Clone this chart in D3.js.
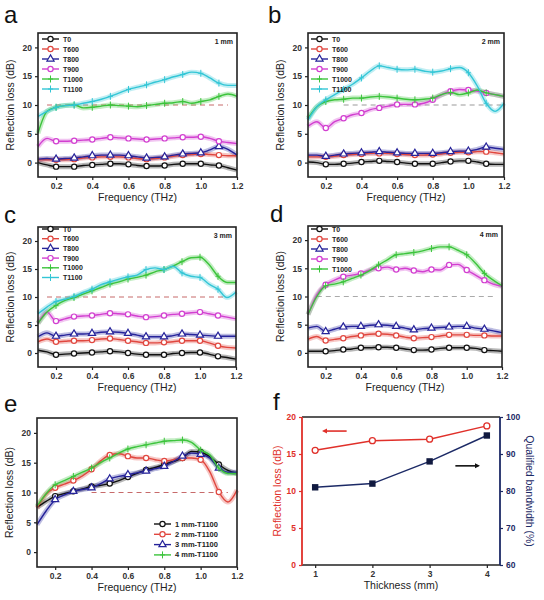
<!DOCTYPE html>
<html><head><meta charset="utf-8">
<script src="https://cdn.jsdelivr.net/npm/d3@7"></script>
<style>body{margin:0;background:#fff}svg{display:block}text{font-family:"Liberation Sans",Arial,sans-serif}</style>
</head><body><svg id="c" width="544" height="600"></svg>
<script>
const freq=[0.1,0.15,0.2,0.25,0.3,0.35,0.4,0.45,0.5,0.55,0.6,0.65,0.7,0.75,0.8,0.85,0.9,0.95,1.0,1.05,1.1,1.15,1.2];
const freqTicks=[0.2,0.4,0.6,0.8,1.0,1.2];
const rlTicks=[0,5,10,15,20];
const seriesNames=["T0","T600","T800","T900","T1000","T1100"];
const thickNames=["1 mm-T1100","2 mm-T1100","3 mm-T1100","4 mm-T1100"];

// panel a (1 mm)
const a_T0=[0.0,-0.4,-0.7,-0.7,-0.7,-0.5,-0.4,-0.3,-0.2,-0.2,-0.3,-0.5,-0.6,-0.6,-0.5,-0.3,-0.2,-0.2,-0.2,-0.4,-0.5,-0.9,-1.3];
const a_T600=[0.5,0.5,0.5,0.5,0.6,0.8,0.9,1.0,1.0,1.0,0.9,0.7,0.6,0.7,0.9,1.1,1.3,1.4,1.5,1.4,1.3,1.2,1.2];
const a_T800=[0.6,0.7,0.6,0.7,0.8,1.0,1.2,1.3,1.3,1.3,1.2,1.0,0.8,0.9,1.0,1.3,1.5,1.6,1.7,2.2,2.8,2.3,1.3];
const a_T900=[2.8,4.2,3.7,3.7,3.8,3.9,4.0,4.2,4.4,4.3,4.2,4.1,4.0,4.1,4.2,4.3,4.4,4.4,4.5,4.2,3.7,3.5,3.3];
const a_T1000=[5.1,8.9,9.6,9.9,10.0,9.5,9.6,9.8,10.0,9.9,9.8,9.7,9.9,10.1,10.3,10.4,10.6,10.3,10.6,10.9,11.5,11.9,11.5];
const a_T1100=[8.0,8.9,9.6,9.9,10.0,10.3,10.6,11.0,11.5,12.1,12.7,13.1,13.5,14.0,14.4,14.9,15.3,15.7,15.5,14.7,13.8,13.4,13.4];
// panel b (2 mm)
const b_T0=[0.1,0.0,-0.3,-0.3,-0.2,-0.1,0.1,0.2,0.3,0.2,0.1,-0.1,-0.2,-0.2,-0.2,0.0,0.2,0.3,0.3,0.1,-0.2,-0.3,-0.3];
const b_T600=[1.0,1.0,1.0,1.1,1.3,1.4,1.5,1.6,1.6,1.6,1.5,1.4,1.3,1.3,1.4,1.5,1.7,1.8,1.8,1.9,1.9,1.7,1.5];
const b_T800=[1.3,1.3,1.1,1.3,1.5,1.6,1.7,1.8,1.9,1.8,1.7,1.6,1.6,1.6,1.6,1.7,1.9,2.0,2.0,2.3,2.7,2.5,2.3];
const b_T900=[6.3,7.1,6.0,7.1,7.7,8.3,8.6,9.2,9.5,9.8,10.1,10.1,10.1,10.3,10.9,11.8,12.4,12.7,12.6,12.4,12.1,11.8,11.5];
const b_T1000=[7.7,9.7,10.6,10.9,11.0,11.2,11.2,11.4,11.5,11.4,11.2,11.0,10.9,11.0,11.2,11.8,12.2,11.8,12.1,12.6,12.1,11.8,11.5];
const b_T1100=[7.4,9.7,10.9,11.8,12.7,13.6,14.7,15.9,16.8,16.5,16.2,16.1,16.2,15.9,15.7,15.9,16.3,16.5,15.6,13.3,10.3,8.9,10.3];
// panel c (3 mm)
const c_T0=[0.5,0.2,-0.3,-0.2,-0.1,0.0,0.1,0.2,0.3,0.2,0.0,-0.2,-0.3,-0.3,-0.3,-0.1,0.0,0.1,0.1,-0.2,-0.6,-0.8,-1.1];
const c_T600=[2.0,2.5,2.0,2.1,2.2,2.2,2.3,2.5,2.6,2.4,2.2,2.0,1.8,1.8,1.9,2.0,2.2,2.2,2.2,1.8,1.3,1.0,0.9];
const c_T800=[2.9,3.6,3.0,3.2,3.4,3.4,3.5,3.7,3.8,3.7,3.5,3.2,2.9,2.9,2.9,3.1,3.4,3.3,3.2,3.1,3.0,3.0,3.0];
const c_T900=[5.3,7.3,5.7,6.1,6.5,6.6,6.7,6.9,7.1,7.0,6.9,6.6,6.4,6.5,6.7,6.9,7.0,7.2,7.3,7.0,6.7,6.4,6.1];
const c_T1000=[5.3,7.3,8.5,9.4,9.9,10.5,11.1,11.7,12.3,12.7,13.2,13.5,13.9,14.5,14.9,15.5,16.3,17.0,17.1,15.8,13.7,12.6,12.6];
const c_T1100=[7.0,8.2,9.2,9.6,10.1,10.8,11.4,12.2,12.7,13.2,13.6,13.9,14.9,15.2,14.9,15.5,14.3,13.7,13.5,12.3,11.4,9.9,10.9];
// panel d (4 mm)
const d_T0=[0.3,0.3,0.3,0.4,0.6,0.7,0.9,0.9,1.0,1.0,0.9,0.7,0.5,0.5,0.6,0.8,0.9,0.9,0.9,0.8,0.5,0.4,0.3];
const d_T600=[2.4,2.9,2.2,2.4,2.6,2.9,3.1,3.3,3.4,3.3,3.1,2.8,2.6,2.7,2.8,3.0,3.2,3.2,3.2,3.1,3.1,3.0,3.0];
const d_T800=[4.4,4.7,3.8,4.2,4.6,4.7,4.7,4.9,5.0,4.9,4.7,4.4,4.1,4.3,4.4,4.5,4.6,4.7,4.7,4.4,4.2,3.9,3.6];
const d_T900=[6.8,10.3,12.1,12.9,13.5,13.8,14.1,14.7,15.0,15.2,14.8,15.0,14.6,14.4,14.8,14.7,15.6,15.7,14.7,13.8,12.9,12.2,11.8];
const d_T1000=[6.8,10.0,11.9,12.2,12.6,13.2,13.8,14.6,15.6,16.5,17.4,17.6,17.8,18.1,18.5,18.8,18.8,18.2,17.4,15.9,14.1,12.9,11.9];
// panel e (T1100, thickness)
const e_1mm=[7.5,8.5,9.4,9.8,10.2,10.6,11.0,11.2,11.5,12.0,12.6,13.2,13.8,14.2,14.7,15.2,15.8,16.9,16.8,16.0,14.7,13.7,13.2];
const e_2mm=[7.4,9.7,10.8,11.4,12.0,12.8,13.9,15.3,16.3,16.5,16.1,15.8,15.8,15.5,15.3,15.5,15.8,15.8,15.5,13.5,10.1,8.4,10.4];
const e_3mm=[4.6,6.9,8.8,9.6,10.2,10.5,10.8,11.5,12.3,12.7,13.0,13.3,13.6,14.0,14.4,15.2,16.1,16.6,16.4,15.8,14.1,13.4,13.4];
const e_4mm=[7.7,9.8,11.3,12.0,12.7,13.4,14.1,15.0,15.8,16.6,17.3,17.7,18.0,18.3,18.6,18.7,18.8,18.4,17.1,16.3,14.1,13.2,13.2];
// panel f
const thickness=[1,2,3,4];
const maxRL=[15.5,16.8,17.0,18.8];
const bandwidth=[81,82,88,95];

const colors={T0:"#111111",T600:"#e0473f",T800:"#26239a",T900:"#d23fd0",T1000:"#3cc43c",T1100:"#33c6d6"};
const markers={T0:"circle",T600:"circle",T800:"triangle",T900:"circle",T1000:"plus",T1100:"plus"};

const svg=d3.select("#c");

function marker(g,type,x,y,col){
  if(type==="circle") g.append("circle").attr("cx",x).attr("cy",y).attr("r",2.6).attr("fill","#fff").attr("stroke",col).attr("stroke-width",1.2);
  else if(type==="triangle") g.append("path").attr("d",d3.symbol(d3.symbolTriangle,22)()).attr("transform",`translate(${x},${y})`).attr("fill","#fff").attr("stroke",col).attr("stroke-width",1.2);
  else if(type==="square") g.append("rect").attr("x",x-3).attr("y",y-3).attr("width",6).attr("height",6).attr("fill",col);
  else if(type==="plus") g.append("path").attr("d",`M${x},${y-3.5}V${y+3.5}M${x-2.5},${y}H${x+2.5}`).attr("stroke",col).attr("stroke-width",1);
}

function rlPanel(o){
  const x=d3.scaleLinear().domain([0.1,1.2]).range([o.x0,o.x1]);
  const y=d3.scaleLinear().domain([-2.5,22.5]).range([o.y1,o.y0]);
  const g=svg.append("g");
  // dashed reference
  g.append("line").attr("x1",x(o.dash[0])).attr("x2",x(o.dash[1])).attr("y1",y(10)).attr("y2",y(10))
    .attr("stroke",o.dashColor||"#c76a6a").attr("stroke-width",1).attr("stroke-dasharray","5,4");
  const line=d3.line().x((d,i)=>x(freq[i])).y(d=>y(d)).curve(d3.curveMonotoneX);
  o.series.forEach(s=>{
    g.append("path").attr("d",line(s.v)).attr("fill","none").attr("stroke",s.c).attr("stroke-width",5).attr("stroke-opacity",0.3).attr("stroke-linejoin","round");
  });
  o.series.forEach(s=>{
    g.append("path").attr("d",line(s.v)).attr("fill","none").attr("stroke",s.c).attr("stroke-width",s.w||1.4).attr("stroke-linejoin","round");
    freq.forEach((f,i)=>{ if(i%2===0&&i>0&&i<22) marker(g,s.m,x(f),y(s.v[i]),s.c); });
  });
  // frame
  g.append("rect").attr("x",o.x0).attr("y",o.y0).attr("width",o.x1-o.x0).attr("height",o.y1-o.y0).attr("fill","none").attr("stroke","#222").attr("stroke-width",1.6);
  const xa=g.append("g").attr("transform",`translate(0,${o.y1})`).call(d3.axisBottom(x).tickValues(freqTicks).tickFormat(d3.format(".1f")).tickSize(3).tickSizeOuter(0));
  const ya=g.append("g").attr("transform",`translate(${o.x0},0)`).call(d3.axisLeft(y).tickValues(rlTicks).tickFormat(d3.format("d")).tickSize(3).tickSizeOuter(0));
  [xa,ya].forEach(a=>{a.select(".domain").remove();a.selectAll("line").attr("stroke","#222").attr("stroke-width",1.2);a.selectAll("text").attr("font-size",8.5).attr("font-weight","bold").attr("fill","#333");});
  g.append("text").attr("x",(o.x0+o.x1)/2).attr("y",o.y1+24).attr("text-anchor","middle").attr("font-size",10.5).attr("fill","#222").text("Frequency (THz)");
  g.append("text").attr("transform",`translate(${o.x0-24},${(o.y0+o.y1)/2}) rotate(-90)`).attr("text-anchor","middle").attr("font-size",10.5).attr("fill","#222").text("Reflection loss (dB)");
  g.append("text").attr("x",o.letterX).attr("y",o.letterY).attr("font-size",24).attr("fill","#111").text(o.letter);
  if(o.thick) g.append("text").attr("x",o.x1-4).attr("y",o.y0+11).attr("text-anchor","end").attr("font-size",7).attr("font-weight","bold").attr("fill","#222").text(o.thick);
  // legend
  const lg=g.append("g");
  o.series.forEach((s,i)=>{
    const ly=o.legY+i*o.legDy;
    lg.append("line").attr("x1",o.legX).attr("x2",o.legX+17).attr("y1",ly).attr("y2",ly).attr("stroke",s.c).attr("stroke-width",1.4);
    marker(lg,s.m,o.legX+8.5,ly,s.c);
    lg.append("text").attr("x",o.legX+21).attr("y",ly+2.5).attr("font-size",o.legFont||7).attr("font-weight","bold").attr("fill","#222").text(s.n);
  });
}

function mk(vals,names){return vals.map((v,i)=>({v,n:names[i],c:colors[names[i]],m:markers[names[i]]}));}

rlPanel({x0:38,x1:237,y0:33,y1:177,letter:"a",letterX:4,letterY:23,thick:"1 mm",dash:[0.15,1.15],legX:42,legY:39,legDy:10,
  series:mk([a_T0,a_T600,a_T800,a_T900,a_T1000,a_T1100],seriesNames)});
rlPanel({x0:308,x1:504,y0:33,y1:177,letter:"b",letterX:268,letterY:23,thick:"2 mm",dash:[0.3,1.2],dashColor:"#999",legX:311,legY:39,legDy:10,
  series:mk([b_T0,b_T600,b_T800,b_T900,b_T1000,b_T1100],seriesNames)});
rlPanel({x0:38,x1:236,y0:227,y1:367,letter:"c",letterX:4,letterY:223,thick:"3 mm",dash:[0.15,1.15],legX:42,legY:229,legDy:9.7,
  series:mk([c_T0,c_T600,c_T800,c_T900,c_T1000,c_T1100],seriesNames)});
rlPanel({x0:308,x1:502,y0:226,y1:367,letter:"d",letterX:270,letterY:222,thick:"4 mm",dash:[0.15,1.15],dashColor:"#aaa",legX:311,legY:229,legDy:10,
  series:mk([d_T0,d_T600,d_T800,d_T900,d_T1000],seriesNames.slice(0,5))});
rlPanel({x0:37,x1:237,y0:418,y1:567,letter:"e",letterX:4,letterY:412,dash:[0.4,1.15],legX:154,legY:524,legDy:10.3,legFont:7.5,
  series:[{v:e_1mm,n:thickNames[0],c:colors.T0,m:"circle"},{v:e_2mm,n:thickNames[1],c:colors.T600,m:"circle"},{v:e_3mm,n:thickNames[2],c:colors.T800,m:"triangle"},{v:e_4mm,n:thickNames[3],c:colors.T1000,m:"plus"}]});

// panel f
(function(){
  const x0=302,x1=500,y0=417,y1=565;
  const red="#e0302a",navy="#1c2a66";
  const x=d3.scaleLinear().domain([0.77,4.23]).range([x0,x1]);
  const yl=d3.scaleLinear().domain([0,20]).range([y1,y0]);
  const yr=d3.scaleLinear().domain([60,100]).range([y1,y0]);
  const g=svg.append("g");
  g.append("path").attr("d",d3.line().x((d,i)=>x(thickness[i])).y(d=>yl(d))(maxRL)).attr("fill","none").attr("stroke",red).attr("stroke-width",1.5);
  maxRL.forEach((v,i)=>g.append("circle").attr("cx",x(thickness[i])).attr("cy",yl(v)).attr("r",3).attr("fill","#fff").attr("stroke",red).attr("stroke-width",1.3));
  g.append("path").attr("d",d3.line().x((d,i)=>x(thickness[i])).y(d=>yr(d))(bandwidth)).attr("fill","none").attr("stroke",navy).attr("stroke-width",1.5);
  bandwidth.forEach((v,i)=>g.append("rect").attr("x",x(thickness[i])-3.2).attr("y",yr(v)-3.2).attr("width",6.4).attr("height",6.4).attr("fill","#111a40"));
  // frame
  g.append("line").attr("x1",x0).attr("x2",x1).attr("y1",y0).attr("y2",y0).attr("stroke","#222").attr("stroke-width",1.6);
  g.append("line").attr("x1",x0).attr("x2",x1).attr("y1",y1).attr("y2",y1).attr("stroke","#222").attr("stroke-width",1.6);
  g.append("line").attr("x1",x0).attr("x2",x0).attr("y1",y0).attr("y2",y1).attr("stroke",red).attr("stroke-width",1.8);
  g.append("line").attr("x1",x1).attr("x2",x1).attr("y1",y0).attr("y2",y1).attr("stroke",navy).attr("stroke-width",1.8);
  const xa=g.append("g").attr("transform",`translate(0,${y1})`).call(d3.axisBottom(x).tickValues(thickness).tickFormat(d3.format("d")).tickSize(3).tickSizeOuter(0));
  const la=g.append("g").attr("transform",`translate(${x0},0)`).call(d3.axisLeft(yl).tickValues(rlTicks).tickFormat(d3.format("d")).tickSize(3).tickSizeOuter(0));
  const ra=g.append("g").attr("transform",`translate(${x1},0)`).call(d3.axisRight(yr).tickValues([60,70,80,90,100]).tickFormat(d3.format("d")).tickSize(3).tickSizeOuter(0));
  [[xa,"#222","#333"],[la,red,red],[ra,navy,navy]].forEach(([a,lc,tc])=>{a.select(".domain").remove();a.selectAll("line").attr("stroke",lc).attr("stroke-width",1.2);a.selectAll("text").attr("font-size",8.5).attr("font-weight","bold").attr("fill",tc);});
  // arrows
  g.append("line").attr("x1",x(1.55)).attr("x2",x(1.15)).attr("y1",yl(18.1)).attr("y2",yl(18.1)).attr("stroke",red).attr("stroke-width",1.6);
  g.append("path").attr("d",`M${x(1.12)},${yl(18.1)}l5,-2.5v5z`).attr("fill",red);
  g.append("line").attr("x1",x(3.45)).attr("x2",x(3.85)).attr("y1",yr(86.8)).attr("y2",yr(86.8)).attr("stroke","#111").attr("stroke-width",1.6);
  g.append("path").attr("d",`M${x(3.88)},${yr(86.8)}l-5,-2.5v5z`).attr("fill","#111");
  g.append("text").attr("x",(x0+x1)/2).attr("y",y1+24).attr("text-anchor","middle").attr("font-size",10.5).attr("fill","#222").text("Thickness (mm)");
  g.append("text").attr("transform",`translate(${x0-21},${(y0+y1)/2}) rotate(-90)`).attr("text-anchor","middle").attr("font-size",10.5).attr("fill",red).text("Reflection loss (dB)");
  g.append("text").attr("transform",`translate(${x1+26},${(y0+y1)/2}) rotate(90)`).attr("text-anchor","middle").attr("font-size",10.5).attr("fill",navy).text("Qualified bandwidth (%)");
  g.append("text").attr("x",273).attr("y",410).attr("font-size",24).attr("fill","#111").text("f");
})();
</script></body></html>
